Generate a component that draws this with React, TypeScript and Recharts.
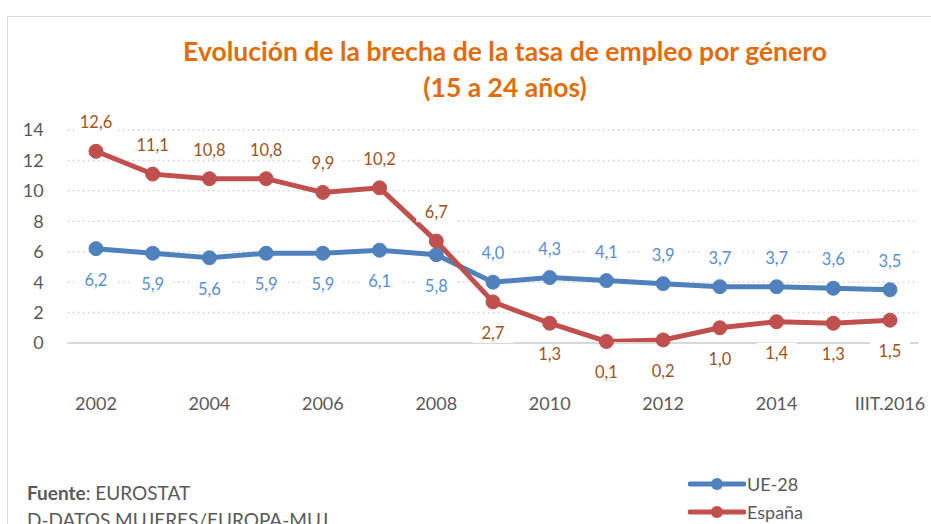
import { LineChart, Line, XAxis, YAxis, CartesianGrid, LabelList } from "recharts";

const years = [
  "2002", "2003", "2004", "2005", "2006", "2007", "2008", "2009",
  "2010", "2011", "2012", "2013", "2014", "2015", "IIIT.2016",
];
const ue28 = [6.2, 5.9, 5.6, 5.9, 5.9, 6.1, 5.8, 4.0, 4.3, 4.1, 3.9, 3.7, 3.7, 3.6, 3.5];
const espana = [12.6, 11.1, 10.8, 10.8, 9.9, 10.2, 6.7, 2.7, 1.3, 0.1, 0.2, 1.0, 1.4, 1.3, 1.5];
const yTicks = [0, 2, 4, 6, 8, 10, 12, 14];

const data = years.map((year, i) => ({ year, ue: ue28[i], es: espana[i] }));

const FONT = "Lato, 'Open Sans', sans-serif";
const BLUE = "#4F81BD";
const RED = "#C0504D";
const BLUE_LABEL = "#558ED5";
const BROWN_LABEL = "#A0521C";
const GREY = "#595959";

// Excel puts the labels above or below the point, with a white box behind
function makeLabel(color: string, aboveUntil: boolean) {
  return (props: any) => {
    const { x, y, value, index } = props;
    const above = aboveUntil ? index < 7 : index >= 7;
    const cy = above ? y - 29 : y + 31;
    const text = Number(value).toFixed(1).replace(".", ",");
    return (
      <g>
        <rect x={x - 20} y={cy - 10} width={40} height={20} fill="#fff" />
        <text
          x={x}
          y={cy}
          textAnchor="middle"
          dominantBaseline="central"
          fill={color}
          fontSize={16.5}
          fontFamily={FONT}
        >
          {text}
        </text>
      </g>
    );
  };
}

const XTick = (props: any) => {
  const { x, y, payload } = props;
  return (
    <text x={x} y={y + 67} textAnchor="middle" fill={GREY} fontSize={18} fontFamily={FONT}>
      {payload.value}
    </text>
  );
};

export default function App() {
  return (
    <div style={{ position: "absolute", left: 0, top: 0, width: 931, height: 524, background: "#fff", overflow: "hidden" }}>
      <div
        style={{
          position: "absolute",
          left: 7,
          top: 16,
          width: 940,
          height: 520,
          borderLeft: "1px solid #D9D9D9",
          borderTop: "1px solid #D9D9D9",
        }}
      />
      <div
        style={{
          position: "absolute",
          left: 0,
          top: 33,
          width: 1010,
          textAlign: "center",
          color: "#E36C0A",
          fontFamily: FONT,
          fontWeight: 700,
          fontSize: 26.5,
          lineHeight: "36px",
        }}
      >
        Evolución de la brecha de la tasa de empleo por género
        <br />
        (15 a 24 años)
      </div>
      <div style={{ position: "absolute", left: 0, top: 0 }}>
        <LineChart
          width={931}
          height={524}
          data={data}
          margin={{ top: 130, right: 12.6, bottom: 121, left: 7.6 }}
        >
          <CartesianGrid
            vertical={false}
            stroke="#D9D9D9"
            strokeDasharray="2 3"
            strokeWidth={1.5}
          />
          <XAxis
            dataKey="year"
            height={60}
            interval={1}
            padding={{ left: 28.4, right: 28.4 }}
            tickLine={false}
            tickSize={0}
            tickMargin={0}
            axisLine={{ stroke: "#D9D9D9", strokeWidth: 2 }}
            tick={<XTick />}
          />
          <YAxis
            width={60}
            domain={[0, 14]}
            ticks={yTicks}
            axisLine={false}
            tickLine={false}
            tickSize={0}
            tickMargin={24}
            tick={{ fill: GREY, fontSize: 18, fontFamily: FONT }}
          />
          <Line
            dataKey="ue"
            stroke={BLUE}
            strokeWidth={5}
            dot={{ r: 7, fill: BLUE, stroke: BLUE, strokeWidth: 1 }}
            isAnimationActive={false}
          >
            <LabelList dataKey="ue" content={makeLabel(BLUE_LABEL, false)} />
          </Line>
          <Line
            dataKey="es"
            stroke={RED}
            strokeWidth={5}
            dot={{ r: 7, fill: RED, stroke: RED, strokeWidth: 1 }}
            isAnimationActive={false}
          >
            <LabelList dataKey="es" content={makeLabel(BROWN_LABEL, true)} />
          </Line>
        </LineChart>
      </div>
      <div
        style={{
          position: "absolute",
          left: 27,
          top: 479,
          fontFamily: FONT,
          fontSize: 19,
          color: GREY,
          lineHeight: "27px",
          whiteSpace: "nowrap",
        }}
      >
        <b>Fuente</b>: EUROSTAT
        <br />
        D-DATOS MUJERES/EUROPA-MUJ
      </div>
      {[
        { name: "UE-28", color: BLUE, top: 484 },
        { name: "España", color: RED, top: 512 },
      ].map((item) => (
        <div key={item.name} style={{ position: "absolute", left: 688, top: item.top - 12, height: 24, display: "flex", alignItems: "center" }}>
          <svg width={58} height={24}>
            <line x1={2} y1={12} x2={56} y2={12} stroke={item.color} strokeWidth={5} strokeLinecap="round" />
            <circle cx={29} cy={12} r={6} fill={item.color} />
          </svg>
          <span style={{ fontFamily: FONT, fontSize: 18, color: GREY, marginLeft: 1 }}>{item.name}</span>
        </div>
      ))}
    </div>
  );
}
